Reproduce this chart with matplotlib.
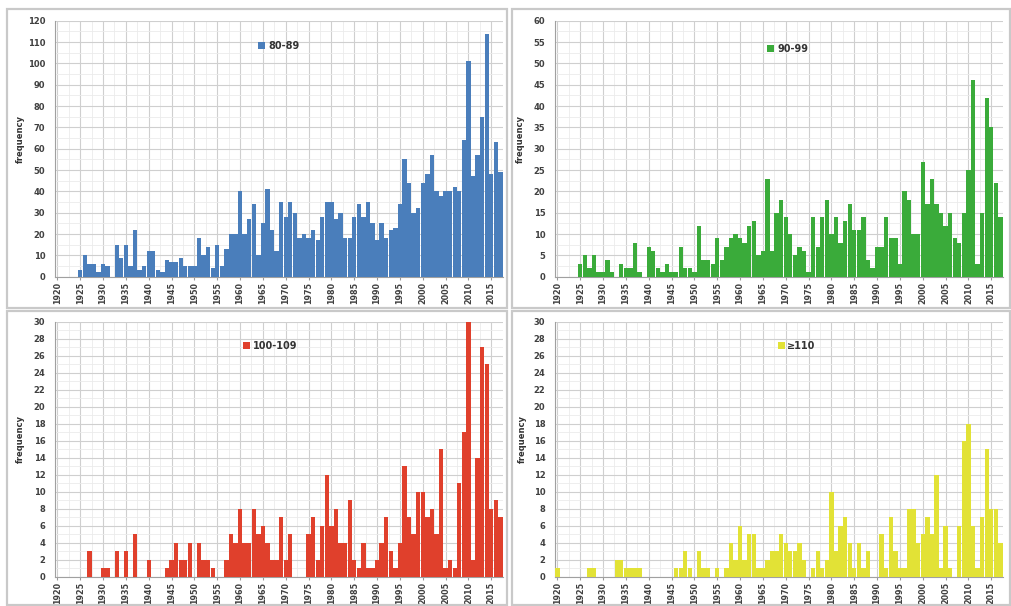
import matplotlib
matplotlib.use("Agg")
import matplotlib.pyplot as plt
from matplotlib.patches import Rectangle
from matplotlib.ticker import MultipleLocator

years = list(range(1920, 2018))
tick_years = list(range(1920, 2016, 5))

s80_89 = [0,0,0,0,0,3,10,6,6,2, 6,5,0,15,9,15,5,22,3,5,
          12,12,3,2,8,7,7,9,5,5, 5,18,10,14,4,15,5,13,20,20,
          40,20,27,34,10,25,41,22,12,35, 28,35,30,18,20,18,22,17,28,35,
          35,27,30,18,18,28,34,28,35,25, 17,25,18,22,23,34,55,44,30,32,
          44,48,57,40,38,40,40,42,40,64, 101,47,57,75,114,48,63,49]

s90_99 = [0,0,0,0,0,3,5,2,5,1, 1,4,1,0,3,2,2,8,1,0,
          7,6,2,1,3,1,1,7,2,2, 1,12,4,4,3,9,4,7,9,10,
          9,8,12,13,5,6,23,6,15,18, 14,10,5,7,6,1,14,7,14,18,
          10,14,8,13,17,11,11,14,4,2, 7,7,14,9,9,3,20,18,10,10,
          27,17,23,17,15,12,15,9,8,15, 25,46,3,15,42,35,22,14]

s100_109 = [0,0,0,0,0,0,0,3,0,0, 1,1,0,3,0,3,0,5,0,0,
            2,0,0,0,1,2,4,2,2,4, 0,4,2,2,1,0,0,2,5,4,
            8,4,4,8,5,6,4,2,2,7, 2,5,0,0,0,5,7,2,6,12,
            6,8,4,4,9,2,1,4,1,1, 2,4,7,3,1,4,13,7,5,10,
            10,7,8,5,15,1,2,1,11,17, 30,2,14,27,25,8,9,7]

s110 = [1,0,0,0,0,0,0,1,1,0, 0,0,0,2,2,1,1,1,1,0,
        0,0,0,0,0,0,1,1,3,1, 0,3,1,1,0,1,0,1,4,2,
        6,2,5,5,1,1,2,3,3,5, 4,3,3,4,2,0,1,3,1,2,
        10,3,6,7,4,1,4,1,3,0, 0,5,1,7,3,1,1,8,8,4,
        5,7,5,12,1,6,1,0,6,16, 18,6,1,7,15,8,8,4]

labels = ["80-89", "90-99", "100-109", "\u2265110"]
colors = ["#4a7ebb", "#3aab3a", "#e0402c", "#e2e236"]
series = [s80_89, s90_99, s100_109, s110]
ymax = [120, 60, 30, 30]
ystep = [10, 5, 2, 2]
ylabel = "frequency"

W, H = 1011, 606
fig = plt.figure(figsize=(W / 100, H / 100), dpi=100)
fig.patch.set_facecolor("white")

frames = [(7, 9, 507, 308), (512, 9, 1010, 308), (7, 311, 507, 605), (512, 311, 1010, 605)]
for (x0, y0, x1, y1) in frames:
    fig.patches.append(Rectangle((x0 / W, 1 - y1 / H), (x1 - x0) / W, (y1 - y0) / H,
                                 transform=fig.transFigure, fill=False,
                                 edgecolor="#c9c9c9", linewidth=1.6))

axes_px = [(55.1, 20.7, 502.7, 276.7), (555.1, 20.7, 1002.7, 276.7),
           (55.1, 321.7, 502.7, 576.7), (555.1, 321.7, 1002.7, 576.7)]
legend_pos = [(0.50, 0.90), (0.52, 0.89), (0.48, 0.905), (0.54, 0.905)]
ylab_x = [20, 520, 20, 522]

for i in range(4):
    x0, y0, x1, y1 = axes_px[i]
    ax = fig.add_axes([x0 / W, 1 - y1 / H, (x1 - x0) / W, (y1 - y0) / H])
    idx = list(range(len(years)))
    ax.bar(idx, series[i], width=0.95, color=colors[i], linewidth=0, label=labels[i], zorder=3)
    ax.set_xlim(-0.5, len(years) - 0.5)
    ax.set_ylim(0, ymax[i])
    ax.yaxis.set_major_locator(MultipleLocator(ystep[i]))
    ax.yaxis.set_minor_locator(MultipleLocator(ystep[i] / 2))
    tpos = [years.index(y) for y in tick_years]
    ax.set_xticks(tpos)
    ax.set_xticklabels([str(y) for y in tick_years], rotation=90, fontsize=5.8,
                       color="#404040", fontweight="bold")
    ax.xaxis.set_minor_locator(MultipleLocator(2.5))
    ax.tick_params(axis="y", labelsize=6, labelcolor="#404040", length=0, pad=7)
    for t in ax.get_yticklabels():
        t.set_fontweight("bold")
    ax.tick_params(axis="x", length=2, color="#999999", pad=2)
    ax.tick_params(which="minor", length=0)
    ax.grid(True, which="major", color="#cfcfcf", linewidth=0.8, zorder=0)
    ax.grid(True, which="minor", color="#ebebeb", linewidth=0.6, zorder=0)
    ax.set_axisbelow(True)
    for s in ["top", "right"]:
        ax.spines[s].set_visible(False)
    ax.spines["left"].set_color("#a0a0a0")
    ax.spines["bottom"].set_color("#a0a0a0")
    leg = ax.legend(loc="center", bbox_to_anchor=legend_pos[i], frameon=False,
                    prop={"size": 7, "weight": "bold"}, handlelength=0.7,
                    handleheight=0.7, handletextpad=0.3)
    for t in leg.get_texts():
        t.set_color("#333333")
    yc = (y0 + y1) / 2 - 10
    fig.text(ylab_x[i] / W, 1 - yc / H, ylabel, rotation=90, fontsize=6,
             fontweight="bold", color="#333333", ha="center", va="center")

fig.savefig("out.png", dpi=100, facecolor="white")
